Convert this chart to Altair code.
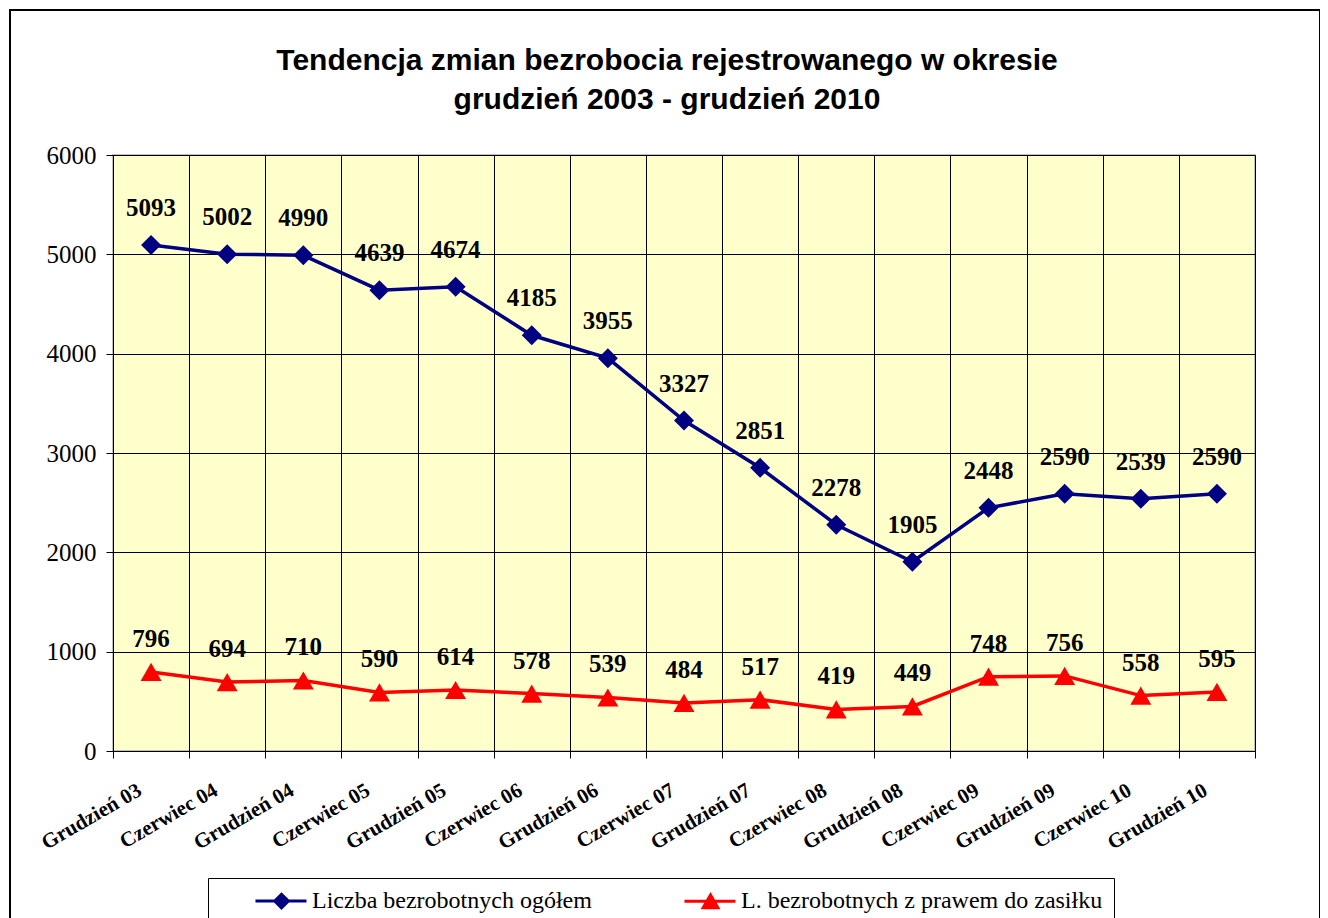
import altair as alt
import pandas as pd

categories = ["Grudzień 03", "Czerwiec 04", "Grudzień 04", "Czerwiec 05", "Grudzień 05",
              "Czerwiec 06", "Grudzień 06", "Czerwiec 07", "Grudzień 07", "Czerwiec 08",
              "Grudzień 08", "Czerwiec 09", "Grudzień 09", "Czerwiec 10", "Grudzień 10"]
total = [5093, 5002, 4990, 4639, 4674, 4185, 3955, 3327, 2851, 2278, 1905, 2448, 2590, 2539, 2590]
benefit = [796, 694, 710, 590, 614, 578, 539, 484, 517, 419, 449, 748, 756, 558, 595]
series_names = ["Liczba bezrobotnych ogółem", "L. bezrobotnych z prawem do zasiłku"]
series_colors = ["#000080", "#FF0000"]
y_ticks = [0, 1000, 2000, 3000, 4000, 5000, 6000]

rows = []
for c, v in zip(categories, total):
    rows.append({"cat": c, "value": v, "series": series_names[0]})
for c, v in zip(categories, benefit):
    rows.append({"cat": c, "value": v, "series": series_names[1]})
df = pd.DataFrame(rows)

W, H = 1142, 596
SERIF = "Liberation Serif"

x_enc = alt.X(
    "cat:N", sort=categories,
    scale=alt.Scale(paddingInner=0, paddingOuter=0),
    axis=alt.Axis(
        title=None, tickBand="extent", labelAngle=-30, labelAlign="right", labelBaseline="top",
        labelOffset=-17, labelPadding=21, labelFont=SERIF, labelFontWeight="bold",
        labelFontSize=21, labelColor="black", labelOverlap=False, labelLimit=400,
        grid=True, gridColor="black", gridWidth=1, gridOpacity=1,
        tickColor="black", tickSize=7, domainColor="black", domainWidth=1,
    ),
)
y_enc = alt.Y(
    "value:Q",
    scale=alt.Scale(domain=[0, 6000], nice=False),
    axis=alt.Axis(
        title=None, values=y_ticks, format="d", grid=True, gridColor="black", gridWidth=1,
        gridOpacity=1, labelFont=SERIF, labelFontSize=25, labelColor="black", labelPadding=10,
        tickSize=7, tickColor="black", domainColor="black", domainWidth=1,
    ),
)

base = alt.Chart(df).encode(x=x_enc, y=y_enc)
b_total = base.transform_filter(alt.datum.series == series_names[0])
b_benefit = base.transform_filter(alt.datum.series == series_names[1])

line_total = b_total.mark_line(strokeWidth=3.5, color=series_colors[0])
line_benefit = b_benefit.mark_line(strokeWidth=3.5, color=series_colors[1])

pts_total = b_total.mark_point(shape="diamond", filled=True, size=400,
                               color=series_colors[0], opacity=1)
pts_benefit = b_benefit.mark_point(shape="triangle-up", filled=True, size=440,
                                   color=series_colors[1], opacity=1)

lbl_total = b_total.mark_text(
    font=SERIF, fontWeight="bold", fontSize=25, color="black", dy=-37, baseline="middle"
).encode(text="value:Q")
lbl_benefit = b_benefit.mark_text(
    font=SERIF, fontWeight="bold", fontSize=25, color="black", dy=-33, baseline="middle"
).encode(text="value:Q")

legend_paths = [
    "M2.33,0L7.19,0M4.16,0L4.81,-0.65L5.46,0L4.81,0.65Z",
    "M2.33,0L7.19,0M4.11,0.6L4.81,-0.6L5.51,0.6Z",
]
leg = alt.Legend(
    title=None, orient="none", legendX=95, legendY=723, direction="horizontal",
    padding=11, strokeColor="black", fillColor="white",
    labelFont=SERIF, labelFontSize=24, labelColor="black", labelOffset=69,
    symbolSize=441, symbolStrokeWidth=3, columnPadding=56, labelLimit=500,
)
# legend-only layer: marks pushed outside the view and clipped away
legend_layer = alt.Chart(df).mark_point(
    filled=True, strokeWidth=3, opacity=1, clip=True
).encode(
    x=x_enc, y=alt.value(-2000),
    shape=alt.Shape("series:N", scale=alt.Scale(domain=series_names, range=legend_paths), legend=leg),
    fill=alt.Fill("series:N", scale=alt.Scale(domain=series_names, range=series_colors), legend=leg),
    stroke=alt.Stroke("series:N", scale=alt.Scale(domain=series_names, range=series_colors), legend=leg),
)

frame = alt.Chart(alt.Data(values=[{"k": 1}])).mark_rect(
    fillOpacity=0, stroke="black", strokeWidth=2
).encode(
    x=alt.value(-103), x2=alt.value(1207), y=alt.value(-145), y2=alt.value(800)
)

chart = alt.layer(
    frame, line_total, line_benefit, pts_total, pts_benefit, lbl_total, lbl_benefit, legend_layer
).properties(
    width=W, height=H,
    title=alt.Title(
        ["Tendencja zmian bezrobocia rejestrowanego w okresie", "grudzień 2003 - grudzień 2010"],
        font="Liberation Sans", fontSize=30, fontWeight="bold", color="black",
        anchor="middle", dx=-17, offset=-106, lineHeight=39,
    ),
    padding={"left": 105, "top": 147, "right": 65, "bottom": 167},
    autosize=alt.AutoSizeParams(type="none"),
    background="white",
).configure_view(
    fill="#FFFFCC", stroke="#C0C0C0", strokeWidth=2
).configure_axisY(
    labelFont=SERIF
)

chart.save("out.html", embed_options={"renderer": "svg", "actions": False})
